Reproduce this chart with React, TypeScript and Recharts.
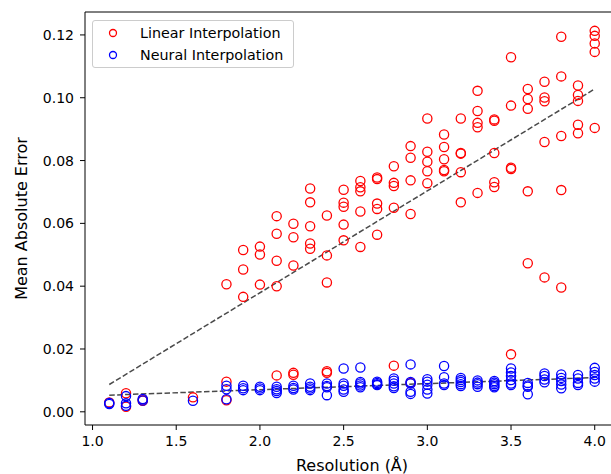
import React from 'react';
import { ScatterChart, Scatter, XAxis, YAxis, ReferenceLine, Legend } from 'recharts';

const resolutions = [1.1, 1.2, 1.3, 1.6, 1.8, 1.9, 2.0, 2.1, 2.2, 2.3, 2.4, 2.5, 2.6, 2.7, 2.8, 2.9, 3.0, 3.1, 3.2, 3.3, 3.4, 3.5, 3.6, 3.7, 3.8, 3.9, 4.0];

const linearErrors = [
  [0.0030],
  [0.0059, 0.0016],
  [0.0039, 0.0035],
  [0.0046],
  [0.0406, 0.0096, 0.0037],
  [0.0515, 0.0453, 0.0366],
  [0.0526, 0.0501, 0.0405],
  [0.0623, 0.0567, 0.0481, 0.0400, 0.0116],
  [0.0599, 0.0556, 0.0466, 0.0124, 0.0118],
  [0.0711, 0.0667, 0.0591, 0.0536, 0.0519],
  [0.0625, 0.0498, 0.0412, 0.0129, 0.0124],
  [0.0707, 0.0666, 0.0653, 0.0596, 0.0546],
  [0.0735, 0.0715, 0.0702, 0.0638, 0.0525],
  [0.0746, 0.0741, 0.0663, 0.0646, 0.0564],
  [0.0782, 0.0729, 0.0719, 0.0650, 0.0147],
  [0.0846, 0.0809, 0.0737, 0.0630, 0.0092],
  [0.0934, 0.0828, 0.0796, 0.0766, 0.0728],
  [0.0883, 0.0843, 0.0804, 0.0770, 0.0766],
  [0.0934, 0.0824, 0.0822, 0.0763, 0.0667],
  [0.1022, 0.0958, 0.0920, 0.0906, 0.0697],
  [0.0931, 0.0927, 0.0824, 0.0731, 0.0716],
  [0.1129, 0.0975, 0.0777, 0.0773, 0.0183],
  [0.1028, 0.0996, 0.0965, 0.0702, 0.0473],
  [0.1051, 0.1001, 0.0989, 0.0859, 0.0428],
  [0.1194, 0.1068, 0.0878, 0.0706, 0.0396],
  [0.1039, 0.1009, 0.0990, 0.0914, 0.0887],
  [0.1213, 0.1197, 0.1173, 0.1146, 0.0904],
];

const neuralErrors = [
  [0.0028, 0.0025],
  [0.0050, 0.0027, 0.0019],
  [0.0041, 0.0036],
  [0.0035],
  [0.0083, 0.0072, 0.0040],
  [0.0083, 0.0075, 0.0069],
  [0.0080, 0.0074, 0.0069],
  [0.0080, 0.0072, 0.0066, 0.0060],
  [0.0083, 0.0076, 0.0071],
  [0.0090, 0.0080, 0.0074, 0.0069],
  [0.0090, 0.0082, 0.0078, 0.0053],
  [0.0138, 0.0090, 0.0083, 0.0071, 0.0064],
  [0.0141, 0.0095, 0.0090, 0.0084, 0.0078],
  [0.0096, 0.0092, 0.0088, 0.0085],
  [0.0106, 0.0099, 0.0090, 0.0081, 0.0076],
  [0.0151, 0.0095, 0.0090, 0.0064, 0.0057],
  [0.0104, 0.0096, 0.0086, 0.0071, 0.0058],
  [0.0146, 0.0110, 0.0090, 0.0085],
  [0.0108, 0.0101, 0.0095, 0.0088, 0.0082],
  [0.0100, 0.0093, 0.0088, 0.0080],
  [0.0098, 0.0093, 0.0088, 0.0082, 0.0078],
  [0.0138, 0.0125, 0.0114, 0.0101, 0.0090, 0.0085],
  [0.0092, 0.0084, 0.0080, 0.0056],
  [0.0122, 0.0114, 0.0103, 0.0094],
  [0.0119, 0.0108, 0.0098, 0.0087, 0.0075],
  [0.0117, 0.0106, 0.0092, 0.0085],
  [0.0140, 0.0127, 0.0117, 0.0106, 0.0096],
];

const linearFit = [{ x: 1.1, y: 0.0087 }, { x: 4.0, y: 0.1028 }];
const neuralFit = [{ x: 1.1, y: 0.0053 }, { x: 4.0, y: 0.0109 }];

const xTicks = [1.0, 1.5, 2.0, 2.5, 3.0, 3.5, 4.0];
const yTicks = [0.0, 0.02, 0.04, 0.06, 0.08, 0.10, 0.12];
const xDomain = [0.955, 4.145];
const yDomain = [-0.0042, 0.1273];

const seriesNames = ['Linear Interpolation', 'Neural Interpolation'];
const seriesColors = ['#ff0000', '#0000ff'];

const toPoints = (errs: number[][]) =>
  resolutions.flatMap((r, i) => errs[i].map((v) => ({ x: r, y: v })));

const linearPoints = toPoints(linearErrors);
const neuralPoints = toPoints(neuralErrors);

const FONT = 'DejaVu Sans';

const makeCircle = (color: string) => (props: any) => {
  const { cx, cy } = props;
  if (cx == null || cy == null) return <g />;
  return <circle cx={cx} cy={cy} r={4.6} fill="none" stroke={color} strokeWidth={1.3} />;
};

const LegendBox = () => (
  <div
    style={{
      position: 'relative',
      width: 202,
      height: 48,
      boxSizing: 'border-box',
      border: '1px solid #cccccc',
      borderRadius: 3,
      background: 'rgba(255,255,255,0.8)',
      fontFamily: FONT,
      fontSize: 14.3,
      color: '#000',
    }}
  >
    {seriesNames.map((name, i) => (
      <div key={name} style={{ position: 'absolute', left: 0, top: 3 + i * 22, height: 18, width: 200 }}>
        <svg width={14} height={14} style={{ position: 'absolute', left: 13, top: 2 }}>
          <circle cx={7} cy={7} r={3.5} fill="none" stroke={seriesColors[i]} strokeWidth={1.3} />
        </svg>
        <span style={{ position: 'absolute', left: 47, top: 0, lineHeight: '18px', whiteSpace: 'nowrap' }}>{name}</span>
      </div>
    ))}
  </div>
);

export default function App() {
  return (
    <div style={{ position: 'absolute', left: 0, top: 0, width: 611, height: 474, overflow: 'hidden', background: '#fff' }}>
      <ScatterChart width={640} height={474} margin={{ top: 12, right: 21, bottom: 0, left: 0 }}>
        <XAxis
          type="number"
          dataKey="x"
          domain={xDomain}
          ticks={xTicks}
          allowDataOverflow
          height={49}
          stroke="#000"
          tickSize={5}
          tickMargin={6}
          tick={{ fill: '#000', fontSize: 14, fontFamily: FONT }}
          tickFormatter={(v: number) => v.toFixed(1)}
          label={{ value: 'Resolution (Å)', position: 'insideBottom', offset: 3, fill: '#000', fontSize: 16, fontFamily: FONT }}
        />
        <YAxis
          type="number"
          dataKey="y"
          domain={yDomain}
          ticks={yTicks}
          allowDataOverflow
          width={85}
          stroke="#000"
          tickSize={5}
          tickMargin={6}
          tick={{ fill: '#000', fontSize: 14, fontFamily: FONT }}
          tickFormatter={(v: number) => v.toFixed(2)}
          label={(props: any) => {
            const vb = props.viewBox || { y: 12, height: 413 };
            const cy = vb.y + vb.height / 2;
            return (
              <text x={27} y={cy} transform={`rotate(-90 27 ${cy})`} textAnchor="middle" fill="#000" fontSize={16} fontFamily={FONT}>
                Mean Absolute Error
              </text>
            );
          }}
        />
        <ReferenceLine y={yDomain[1]} stroke="#000" strokeWidth={1} ifOverflow="extendDomain" />
        <ReferenceLine x={xDomain[1]} stroke="#000" strokeWidth={1} ifOverflow="extendDomain" />
        <Scatter name={seriesNames[0]} data={linearPoints} shape={makeCircle(seriesColors[0])} isAnimationActive={false} />
        <Scatter name={seriesNames[1]} data={neuralPoints} shape={makeCircle(seriesColors[1])} isAnimationActive={false} />
        <ReferenceLine segment={linearFit} stroke="#4a4a4a" strokeWidth={1.5} strokeDasharray="5.5 2.4" />
        <ReferenceLine segment={neuralFit} stroke="#4a4a4a" strokeWidth={1.5} strokeDasharray="5.5 2.4" />
        <Legend
          layout="vertical"
          align="center"
          verticalAlign="middle"
          content={() => <LegendBox />}
          wrapperStyle={{ position: 'absolute', left: 92, top: 20, width: 202, height: 48 }}
        />
      </ScatterChart>
    </div>
  );
}
